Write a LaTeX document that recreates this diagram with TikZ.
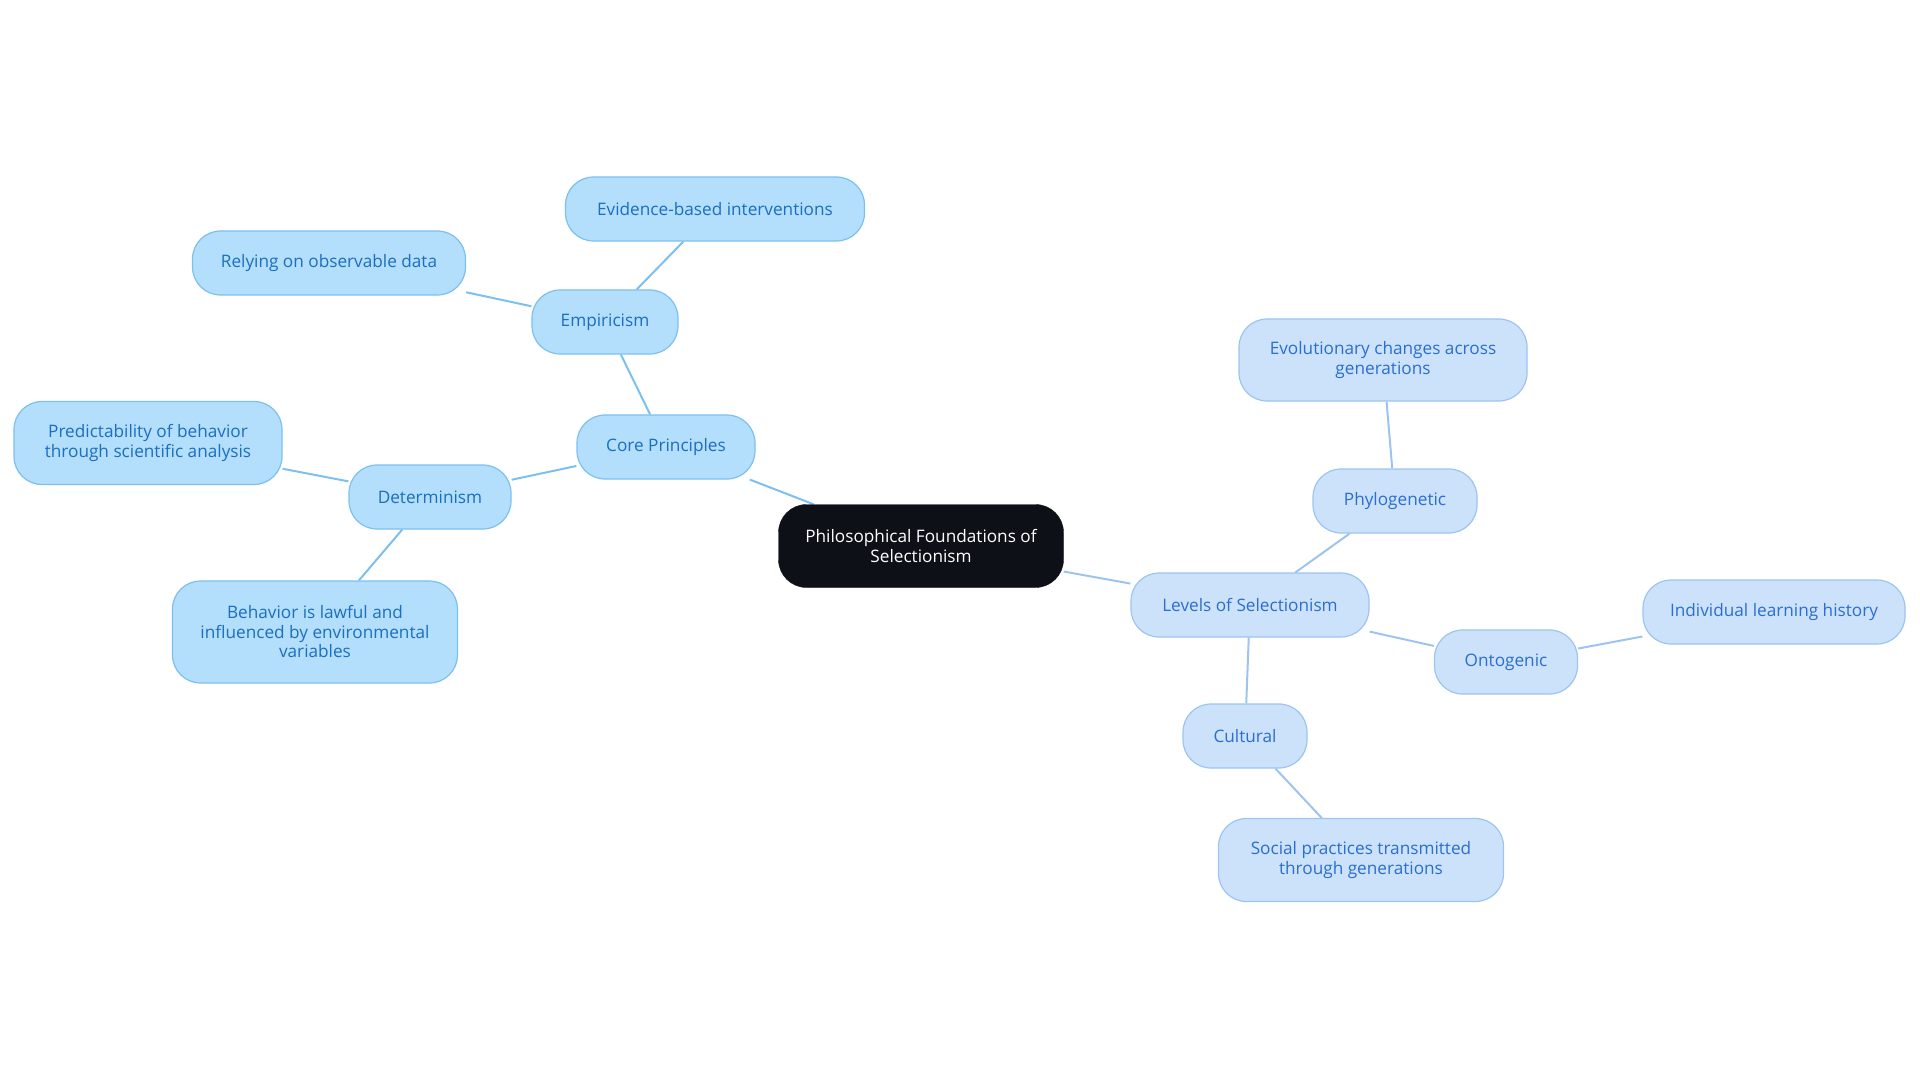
\documentclass[tikz,border=0pt]{standalone}
\usepackage{fontspec}
\setmainfont{Open Sans}
\usepackage{tikz}
\usepackage{xcolor}
\usetikzlibrary{positioning, backgrounds}
\definecolor{rootdark}{HTML}{0D1117}
\definecolor{corefill}{HTML}{B3DEFC}
\definecolor{coreline}{HTML}{7CC0F0}
\definecolor{coretext}{HTML}{1A6FC0}
\definecolor{levelfill}{HTML}{CCE2FA}
\definecolor{levelline}{HTML}{9DC4F0}
\definecolor{leveltext}{HTML}{2A6ED0}

\begin{document}
\begin{tikzpicture}[x=1pt, y=-1pt,
    every node/.style={font=\fontsize{17.2}{19.5}\selectfont, align=center, inner sep=0pt},
    rootbox/.style={fill=rootdark, draw=rootdark, text=white, rounded corners=28pt,
        minimum width=285pt, minimum height=83pt},
    corebox/.style={fill=corefill, draw=coreline, line width=1.2pt, text=coretext,
        rounded corners=28pt, minimum height=64pt},
    levelbox/.style={fill=levelfill, draw=levelline, line width=1.2pt, text=leveltext,
        rounded corners=28pt, minimum height=64pt},
    corelink/.style={draw=coreline, line width=2pt},
    levellink/.style={draw=levelline, line width=2pt}]

        % Margenes del dibujo
        \useasboundingbox (0,0) rectangle (1920,1083);

        % Nodo central
        \node[rootbox] (root) at (921,546) {Philosophical Foundations of\\Selectionism};

        % Rama izquierda: principios
        \node[corebox, minimum width=178pt] (core) at (666,447) {Core Principles};
        \node[corebox, minimum width=146pt] (empiricism) at (605,322) {Empiricism};
        \node[corebox, minimum width=299pt] (evidence) at (715,209) {Evidence-based interventions};
        \node[corebox, minimum width=273pt] (observable) at (329,263) {Relying on observable data};
        \node[corebox, minimum width=162pt] (determinism) at (430,497) {Determinism};
        \node[corebox, minimum width=268pt, minimum height=83pt] (predict) at (148,443)
            {Predictability of behavior\\through scientific analysis};
        \node[corebox, minimum width=285pt, minimum height=102pt] (lawful) at (315,632)
            {Behavior is lawful and\\influenced by environmental\\variables};

        % Rama derecha: niveles
        \node[levelbox, minimum width=238pt] (levels) at (1250,605) {Levels of Selectionism};
        \node[levelbox, minimum width=164pt] (phylo) at (1395,501) {Phylogenetic};
        \node[levelbox, minimum width=288pt, minimum height=82pt] (evolution) at (1383,360)
            {Evolutionary changes across\\generations};
        \node[levelbox, minimum width=143pt] (onto) at (1506,662) {Ontogenic};
        \node[levelbox, minimum width=262pt] (learning) at (1774,612) {Individual learning history};
        \node[levelbox, minimum width=124pt] (cultural) at (1245,736) {Cultural};
        \node[levelbox, minimum width=285pt, minimum height=83pt] (social) at (1361,860)
            {Social practices transmitted\\through generations};

        % Conexiones detras de los nodos
        \begin{scope}[on background layer]
            \draw[corelink] (root) -- (core);
            \draw[corelink] (core) -- (empiricism);
            \draw[corelink] (empiricism) -- (evidence);
            \draw[corelink] (empiricism) -- (observable);
            \draw[corelink] (core) -- (determinism);
            \draw[corelink] (determinism) -- (predict);
            \draw[corelink] (determinism) -- (lawful);
            \draw[levellink] (root) -- (levels);
            \draw[levellink] (levels) -- (phylo);
            \draw[levellink] (phylo) -- (evolution);
            \draw[levellink] (levels) -- (onto);
            \draw[levellink] (onto) -- (learning);
            \draw[levellink] (levels) -- (cultural);
            \draw[levellink] (cultural) -- (social);
        \end{scope}

    \end{tikzpicture}
\end{document}
